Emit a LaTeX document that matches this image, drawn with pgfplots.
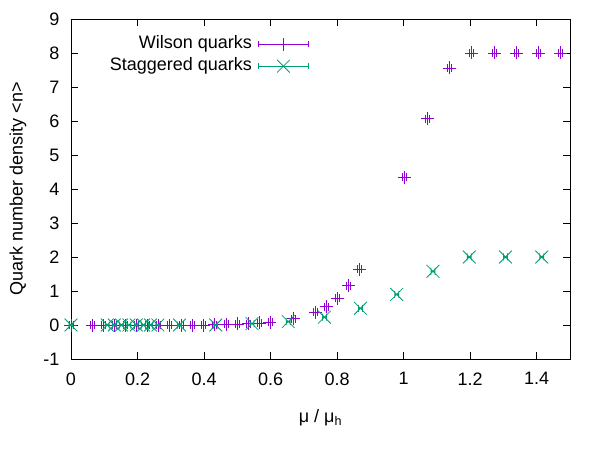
\documentclass[border=0pt]{standalone}
\usepackage{pgfplots}
\pgfplotsset{compat=1.18}
\usepackage{fontspec}
\setmainfont{Liberation Sans}

\definecolor{wilson}{HTML}{9400D3}
\definecolor{stag}{HTML}{009E73}

% point marks carrying the small horizontal error bar (half width 2bp) with its end ticks
\pgfdeclareplotmark{plusbar}{%
  \pgfpathmoveto{\pgfqpoint{-\pgfplotmarksize}{0pt}}%
  \pgfpathlineto{\pgfqpoint{\pgfplotmarksize}{0pt}}%
  \pgfpathmoveto{\pgfqpoint{0pt}{-\pgfplotmarksize}}%
  \pgfpathlineto{\pgfqpoint{0pt}{\pgfplotmarksize}}%
  \pgfpathmoveto{\pgfqpoint{-2bp}{-4bp}}\pgfpathlineto{\pgfqpoint{-2bp}{4bp}}%
  \pgfpathmoveto{\pgfqpoint{2bp}{-4bp}}\pgfpathlineto{\pgfqpoint{2bp}{4bp}}%
  \pgfusepathqstroke}
\pgfdeclareplotmark{crossbar}{%
  \pgfpathmoveto{\pgfqpoint{-\pgfplotmarksize}{-\pgfplotmarksize}}%
  \pgfpathlineto{\pgfqpoint{\pgfplotmarksize}{\pgfplotmarksize}}%
  \pgfpathmoveto{\pgfqpoint{-\pgfplotmarksize}{\pgfplotmarksize}}%
  \pgfpathlineto{\pgfqpoint{\pgfplotmarksize}{-\pgfplotmarksize}}%
  \pgfpathmoveto{\pgfqpoint{-2bp}{0pt}}\pgfpathlineto{\pgfqpoint{2bp}{0pt}}%
  \pgfpathmoveto{\pgfqpoint{-2bp}{-3.5bp}}\pgfpathlineto{\pgfqpoint{-2bp}{3.5bp}}%
  \pgfpathmoveto{\pgfqpoint{2bp}{-3.5bp}}\pgfpathlineto{\pgfqpoint{2bp}{3.5bp}}%
  \pgfusepathqstroke}

% Quark number density vs chemical potential
\pgfplotstableread{
x      y
0.000  0.00
0.064  0.00
0.097  0.00
0.130  0.00
0.163  0.00
0.196  0.00
0.229  0.00
0.262  0.00
0.296  0.00
0.331  0.00
0.366  0.00
0.398  0.00
0.431  0.01
0.466  0.02
0.501  0.03
0.534  0.04
0.566  0.06
0.598  0.08
0.668  0.18
0.736  0.37
0.768  0.54
0.802  0.78
0.835  1.16
0.868  1.64
1.003  4.35
1.071  6.07
1.137  7.56
1.205  8.00
1.272  8.00
1.338  8.00
1.406  8.00
1.472  8.00
}\wilsondata

\pgfplotstableread{
x      y
0.000  0.00
0.109  0.00
0.130  0.00
0.152  0.00
0.174  0.00
0.196  0.00
0.218  0.00
0.239  0.00
0.261  0.00
0.326  0.00
0.435  0.00
0.544  0.04
0.653  0.10
0.762  0.23
0.870  0.49
0.979  0.90
1.088  1.58
1.197  2.00
1.306  2.00
1.415  2.00
}\stagdata

\newcommand\chartfont{\fontsize{18bp}{21bp}\selectfont}

\begin{document}
\begin{tikzpicture}
\path[use as bounding box] (-71bp,-91bp) rectangle (529bp,359bp);
\begin{axis}[
  at={(0,0)}, anchor=south west,
  scale only axis, width=499bp, height=340bp,
  xmin=0, xmax=1.5, ymin=-1, ymax=9,
  clip=false,
  xtick={0,0.2,0.4,0.6,0.8,1,1.2,1.4},
  ytick={-1,0,1,2,3,4,5,6,7,8,9},
  tick align=inside, major tick length=7bp,
  axis line style={line width=0.9bp},
  every tick/.style={black, line width=0.7bp},
  /pgf/number format/assume math mode=true,
  tick label style={font=\chartfont},
  xticklabel style={yshift=-10bp},
  yticklabel style={xshift=-8bp},
  xlabel={μ / μ\textsubscript{h}},
  every axis x label/.style={at={(axis description cs:0.5,0)}, anchor=center, yshift=-59bp, font=\chartfont},
  ylabel={Quark number density <n>},
  every axis y label/.style={at={(axis description cs:-0.1062,0.5)}, rotate=90, anchor=center, font=\chartfont},
  legend plot pos=right,
  legend cell align=right,
  legend style={at={(axis description cs:0.477,1)}, anchor=north east,
    draw=none, fill=none, inner sep=0pt, yshift=-14bp,
    font=\chartfont,
    nodes={inner xsep=6bp, inner ysep=2.5bp, text height=13bp, text depth=4bp}},
]
\addplot[color=wilson, only marks, scatter,
  scatter/use mapped color={draw=wilson, fill=wilson},
  mark=plusbar, mark size=6.5bp, line width=0.8bp,
  legend image code/.code={
    \draw[wilson, line width=0.8bp] (0bp,0bp)--(50bp,0bp) (0bp,-3bp)--(0bp,3bp) (50bp,-3bp)--(50bp,3bp);
    \draw[wilson, line width=0.8bp] plot[mark=+, mark size=6.5bp] coordinates {(25bp,0bp)};
  }]
  table[x=x, y=y] {\wilsondata};
\addlegendentry{Wilson quarks}
\addplot[color=stag, only marks, scatter,
  scatter/use mapped color={draw=stag, fill=stag},
  mark=crossbar, mark size=6.4bp, line width=0.8bp,
  legend image code/.code={
    \draw[stag, line width=0.8bp] (0bp,0bp)--(50bp,0bp) (0bp,-3bp)--(0bp,3bp) (50bp,-3bp)--(50bp,3bp);
    \draw[stag, line width=0.8bp] plot[mark=x, mark size=9bp] coordinates {(25bp,0bp)};
  }]
  table[x=x, y=y] {\stagdata};
\addlegendentry{Staggered quarks}
\end{axis}
\end{tikzpicture}
\end{document}
